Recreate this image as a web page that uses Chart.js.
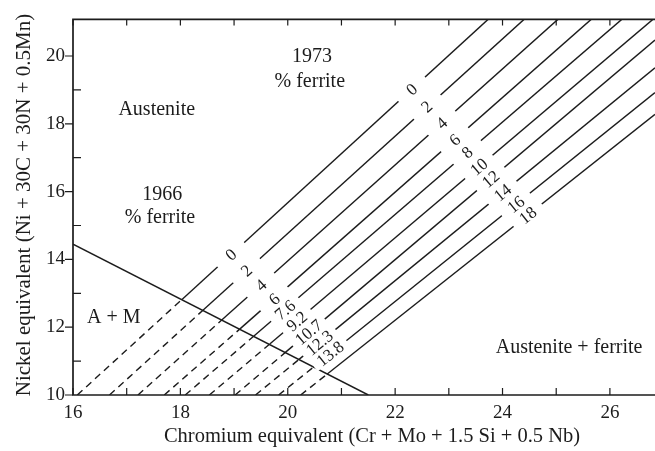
<!DOCTYPE html>
<html>
<head>
<meta charset="utf-8">
<script src="https://cdn.jsdelivr.net/npm/chart.js@4.4.1/dist/chart.umd.min.js"></script>
<style>
  html, body { margin: 0; padding: 0; background: #fff; }
  #wrap { width: 655px; height: 451px; position: relative; }
</style>
</head>
<body>
<div id="wrap"><canvas id="diagram"></canvas></div>
<script>
// iso-ferrite lines (Cr eq on x, Ni eq on y)
const ferriteNumbers = ['0', '2', '4', '6', '8', '10', '12', '14', '16', '18'];     // 1973 labels
const percentFerrite = ['0', '2', '4', '6', '7.6', '9.2', '10.7', '12.3', '13.8'];  // 1966 labels (first 9 lines)

// where each line starts at Ni eq = 10 (dashed part)
const dashStartX = [16.08, 16.68, 17.21, 17.70, 18.09, 18.54, 19.02, 19.40, 19.83, 20.24];
// where each line meets the A + M boundary
const crossX = [18.03, 18.42, 18.77, 19.11, 19.37, 19.67, 19.95, 20.21, 20.47, 20.73];
const crossY = [12.82, 12.50, 12.21, 11.95, 11.74, 11.51, 11.25, 11.05, 10.81, 10.61];
// where each line leaves the frame
const endX = [23.73, 24.40, 25.03, 25.65, 26.22, 26.80, 26.84, 26.84, 26.84, 26.84];
const endY = [21.08, 21.08, 21.08, 21.08, 21.08, 21.08, 20.47, 19.65, 18.92, 18.28];

// label spots on the lines
const label1973X = [22.31, 22.59, 22.87, 23.11, 23.34, 23.56, 23.78, 24.00, 24.25, 24.47];
const label1973Y = [19.02, 18.51, 18.02, 17.53, 17.16, 16.73, 16.37, 15.97, 15.62, 15.30];
const label1966X = [18.94, 19.23, 19.50, 19.75, 19.95, 20.17, 20.39, 20.59, 20.79];
const label1966Y = [14.14, 13.67, 13.24, 12.83, 12.51, 12.18, 11.85, 11.54, 11.22];

// austenite / martensite boundary
const boundaryX = [16, 21.5];
const boundaryY = [14.45, 10];

// region texts
const regionText = ['1973', '% ferrite', 'Austenite', '1966', '% ferrite', 'A + M', 'Austenite + ferrite'];
const regionX = [20.45, 20.41, 17.56, 17.66, 17.62, 16.76, 25.24];
const regionY = [19.97, 19.24, 18.40, 15.90, 15.23, 12.27, 11.40];

const X_MIN = 16, X_MAX = 26.84, Y_MIN = 10, Y_MAX = 21.08;
const INK = '#1c1c1c';
const SERIF = "'Liberation Serif', 'DejaVu Serif', serif";

const datasets = [];
datasets.push({
    label: 'boundary',
    data: boundaryX.map((x, i) => ({ x: x, y: boundaryY[i] })),
    borderColor: INK, borderWidth: 1.5, pointRadius: 0, showLine: true
});
ferriteNumbers.forEach((fn, i) => {
    datasets.push({
        label: 'FN ' + fn,
        data: [
            { x: dashStartX[i], y: 10 },
            { x: crossX[i], y: crossY[i] },
            { x: endX[i], y: endY[i] }
        ],
        borderColor: INK, borderWidth: 1.4, pointRadius: 0, showLine: true,
        segment: { borderDash: ctx => ctx.p0DataIndex === 0 ? [7, 5] : undefined }
    });
});

// white gap + rotated number on a line
function lineLabel(ctx, chart, text, x, y, lineIdx) {
    const sx = chart.scales.x, sy = chart.scales.y;
    const px = sx.getPixelForValue(x), py = sy.getPixelForValue(y);
    const ang = Math.atan2(sy.getPixelForValue(endY[lineIdx]) - sy.getPixelForValue(crossY[lineIdx]),
                           sx.getPixelForValue(endX[lineIdx]) - sx.getPixelForValue(crossX[lineIdx]));
    ctx.save();
    ctx.translate(px, py);
    ctx.rotate(ang);
    ctx.font = '17px ' + SERIF;
    const tw = ctx.measureText(text).width;
    const w = Math.max(tw + 12, 36);
    ctx.fillStyle = '#fff';
    ctx.fillRect(-w / 2, -6, w, 12);
    ctx.fillStyle = INK;
    ctx.textAlign = 'center';
    ctx.textBaseline = 'middle';
    ctx.fillText(text, 0, 1);
    ctx.restore();
}

const framePlugin = {
    id: 'frame',
    afterDatasetsDraw(chart) {
        const ctx = chart.ctx;
        const sx = chart.scales.x, sy = chart.scales.y;
        const a = chart.chartArea;

        ferriteNumbers.forEach((t, i) => lineLabel(ctx, chart, t, label1973X[i], label1973Y[i], i));
        percentFerrite.forEach((t, i) => lineLabel(ctx, chart, t, label1966X[i], label1966Y[i], i));

        // frame: left, bottom, top (no right side)
        ctx.save();
        ctx.strokeStyle = INK;
        ctx.lineWidth = 1.7;
        ctx.beginPath();
        ctx.moveTo(a.right, a.top); ctx.lineTo(a.left, a.top);
        ctx.lineTo(a.left, a.bottom); ctx.lineTo(a.right, a.bottom);
        ctx.stroke();

        ctx.lineWidth = 1.2;
        ctx.beginPath();
        for (let v = X_MIN; v <= X_MAX; v++) {
            const px = sx.getPixelForValue(v);
            ctx.moveTo(px, a.bottom); ctx.lineTo(px, a.bottom - 7);
            ctx.moveTo(px, a.top); ctx.lineTo(px, a.top + 6);
        }
        for (let v = Y_MIN; v <= 20; v++) {
            const py = sy.getPixelForValue(v);
            ctx.moveTo(a.left, py);
            ctx.lineTo(v % 2 === 0 ? a.left - 8 : a.left + 8, py);
        }
        ctx.stroke();

        // region names
        ctx.fillStyle = INK;
        ctx.font = '20px ' + SERIF;
        ctx.textAlign = 'center';
        ctx.textBaseline = 'middle';
        regionText.forEach((t, i) => {
            ctx.fillText(t, sx.getPixelForValue(regionX[i]), sy.getPixelForValue(regionY[i]));
        });

        // axis titles
        ctx.font = '20.5px ' + SERIF;
        ctx.fillText('Chromium equivalent (Cr + Mo + 1.5 Si + 0.5 Nb)', 372, 437);
        ctx.translate(24, 205);
        ctx.rotate(-Math.PI / 2);
        ctx.font = '21px ' + SERIF;
        ctx.fillText('Nickel equivalent (Ni + 30C + 30N + 0.5Mn)', 0, 0);
        ctx.restore();
    }
};

new Chart(document.getElementById('diagram'), {
    type: 'scatter',
    data: { datasets: datasets },
    options: {
        responsive: true,
        maintainAspectRatio: false,
        animation: false,
        devicePixelRatio: 1,
        layout: { padding: { top: 14, right: 0, left: 0, bottom: 0 } },
        plugins: { legend: { display: false }, tooltip: { enabled: false } },
        scales: {
            x: {
                type: 'linear', min: X_MIN, max: X_MAX,
                afterFit: s => { s.height = 56; },
                grid: { display: false, drawTicks: false },
                border: { display: false },
                ticks: {
                    stepSize: 1, includeBounds: false, autoSkip: false, maxRotation: 0,
                    padding: 7, color: INK, font: { family: SERIF, size: 19 },
                    callback: v => (v % 2 === 0 ? v : '')
                }
            },
            y: {
                type: 'linear', min: Y_MIN, max: Y_MAX,
                afterFit: s => { s.width = 73; },
                grid: { display: false, drawTicks: false },
                border: { display: false },
                ticks: {
                    stepSize: 1, includeBounds: false, autoSkip: false,
                    padding: 8, color: INK, font: { family: SERIF, size: 19 },
                    callback: v => (v % 2 === 0 ? v : '')
                }
            }
        }
    },
    plugins: [framePlugin]
});
</script>
</body>
</html>
